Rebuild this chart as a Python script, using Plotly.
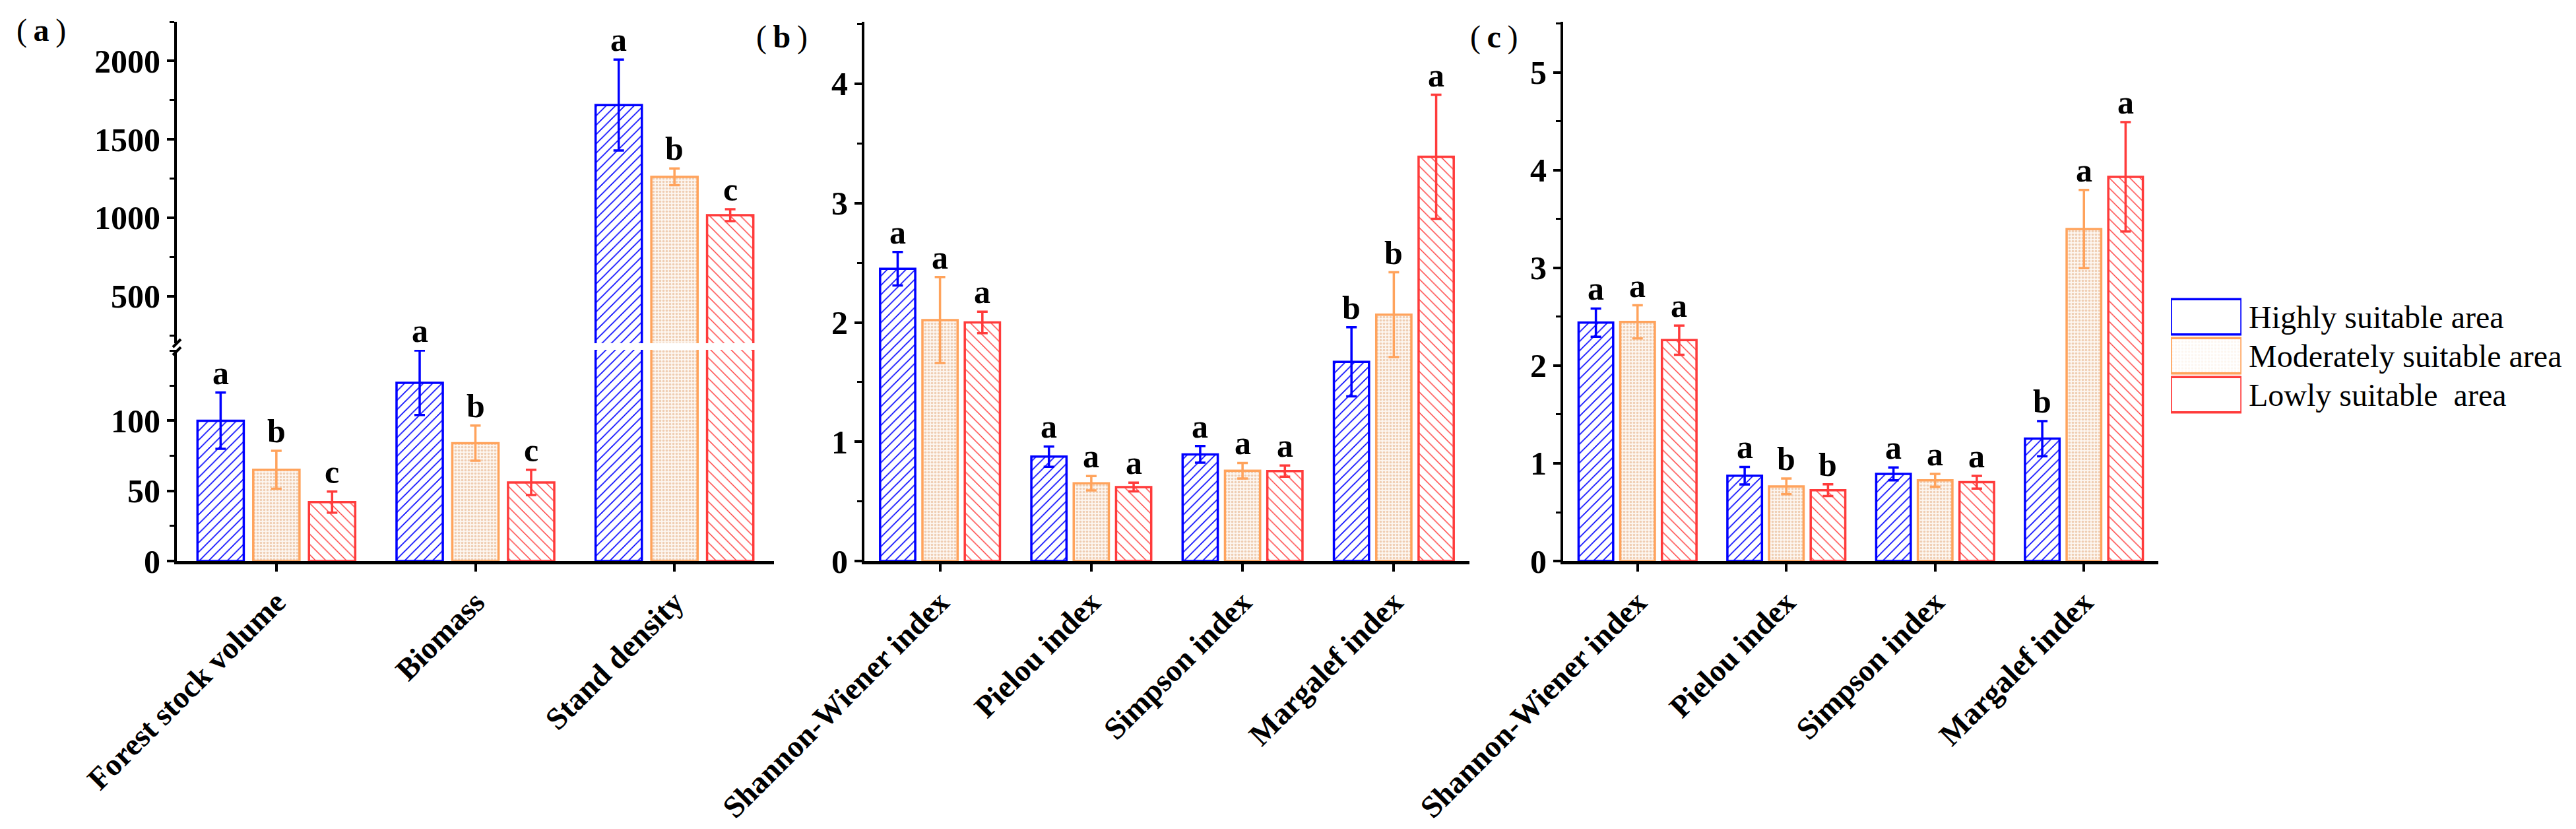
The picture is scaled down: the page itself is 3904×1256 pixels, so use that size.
import plotly.graph_objects as go

# ---------------- data ----------------
series = ["Highly suitable area", "Moderately suitable area", "Lowly suitable  area"]

cats_a = ["Forest stock volume", "Biomass", "Stand density"]
high_a = [100, 127, 1719]
high_a_err = [20, 23, 290]
mod_a = [65, 84, 1261]
mod_a_err = [13.5, 12.5, 53]
low_a = [42, 56, 1017]
low_a_err = [7.5, 9, 38]
let_high_a = ["a", "a", "a"]
let_mod_a = ["b", "b", "b"]
let_low_a = ["c", "c", "c"]

cats_b = ["Shannon-Wiener index", "Pielou index", "Simpson index", "Margalef index"]
high_b = [2.45, 0.875, 0.894, 1.67]
high_b_err = [0.14, 0.085, 0.07, 0.29]
mod_b = [2.02, 0.652, 0.757, 2.065]
mod_b_err = [0.36, 0.06, 0.065, 0.355]
low_b = [2.0, 0.62, 0.754, 3.388]
low_b_err = [0.09, 0.037, 0.047, 0.52]
let_high_b = ["a", "a", "a", "b"]
let_mod_b = ["a", "a", "a", "b"]
let_low_b = ["a", "a", "a", "a"]

cats_c = ["Shannon-Wiener index", "Pielou index", "Simpson index", "Margalef index"]
high_c = [2.44, 0.873, 0.892, 1.253]
high_c_err = [0.145, 0.09, 0.066, 0.18]
mod_c = [2.448, 0.764, 0.826, 3.398]
mod_c_err = [0.17, 0.08, 0.066, 0.4]
low_c = [2.261, 0.725, 0.807, 3.933]
low_c_err = [0.15, 0.06, 0.065, 0.56]
let_high_c = ["a", "a", "a", "b"]
let_mod_c = ["a", "b", "a", "a"]
let_low_c = ["a", "b", "a", "a"]

panel_labels = ["a", "b", "c"]
lower_a_ticks = [0, 50, 100]

# ---------------- style ----------------
W, H = 3904, 1256
BARGAP = 0.16
BARGROUPGAP = 0.17
SERIF = "Times New Roman, Liberation Serif, serif"

edge = ["#0000FF", "#FFA35C", "#FF3B3B"]
pat_shape = ["/", ".", "\\"]
pat_fg = ["#0000FF", "#EFCDB2", "#FF3B3B"]
pat_bg = ["#FFFFFF", "#FDF6F0", "#FFFFFF"]
pat_size = [10, 5, 11]
pat_sol = [0.16, 0.4, 0.13]


def fx(p):
    return p / W


def fy(p):
    return 1 - p / H


tick_font = dict(family=SERIF, size=50, color="black", weight="bold")
xtick_font = dict(family=SERIF, size=47, color="black", weight="bold")
letter_font = dict(family=SERIF, size=50, color="black", weight="bold")

fig = go.Figure()

panels = [
    dict(cats=cats_a, vals=[high_a, mod_a, low_a], errs=[high_a_err, mod_a_err, low_a_err],
         lets=[let_high_a, let_mod_a, let_low_a], axes=[("x", "y"), ("x2", "y2")]),
    dict(cats=cats_b, vals=[high_b, mod_b, low_b], errs=[high_b_err, mod_b_err, low_b_err],
         lets=[let_high_b, let_mod_b, let_low_b], axes=[("x3", "y3")]),
    dict(cats=cats_c, vals=[high_c, mod_c, low_c], errs=[high_c_err, mod_c_err, low_c_err],
         lets=[let_high_c, let_mod_c, let_low_c], axes=[("x4", "y4")]),
]

LOWER_A_MAX = 150.5

for p in panels:
    for xa, ya in p["axes"]:
        for k in range(3):
            fig.add_trace(go.Bar(
                x=p["cats"], y=p["vals"][k], name=series[k], xaxis=xa, yaxis=ya,
                showlegend=False,
                marker=dict(color=pat_bg[k],
                            line=dict(color=edge[k], width=3.5),
                            pattern=dict(shape=pat_shape[k], fgcolor=pat_fg[k], bgcolor=pat_bg[k],
                                         size=pat_size[k], solidity=pat_sol[k], fillmode="replace")),
                error_y=dict(type="data", array=p["errs"][k], visible=True, color=edge[k],
                             thickness=3.5, width=8),
            ))

# significance letters
slot = (1 - BARGAP) / 3
annotations = []
for pi, p in enumerate(panels):
    for k in range(3):
        for ci in range(len(p["cats"])):
            top = p["vals"][k][ci] + p["errs"][k][ci]
            if pi == 0:
                xa, ya = ("x", "y") if top <= LOWER_A_MAX else ("x2", "y2")
            else:
                xa, ya = p["axes"][0]
            annotations.append(dict(
                x=ci + (k - 1) * slot, y=top, xref=xa, yref=ya, text=p["lets"][k][ci],
                showarrow=False, yanchor="bottom", xanchor="center", yshift=0, font=letter_font))

# panel labels
label_pos = [(54, 38), (1177, 48), (2256, 48)]
for lab, (lx, ly) in zip(panel_labels, label_pos):
    annotations.append(dict(
        x=fx(lx), y=fy(ly), xref="paper", yref="paper",
        text="(\u2009<b>" + lab + "</b>\u2009)",
        showarrow=False, xanchor="center", yanchor="middle",
        font=dict(family=SERIF, size=48, color="black")))

# legend as a small horizontal bar subplot
fig.add_trace(go.Bar(
    x=[1, 1, 1], y=series, orientation="h", xaxis="x5", yaxis="y5", showlegend=False,
    width=0.91,
    marker=dict(color=pat_bg, line=dict(color=edge, width=3.5),
                pattern=dict(shape=pat_shape, fgcolor=pat_fg, bgcolor=pat_bg,
                             size=pat_size, solidity=pat_sol, fillmode="replace")),
    hoverinfo="skip",
))

minor_style = dict(ticks="outside", ticklen=7, tickwidth=3, tickcolor="black")
common_y = dict(showline=True, linecolor="black", linewidth=4, ticks="outside", ticklen=11,
                tickwidth=3.5, tickcolor="black", showgrid=False, zeroline=False,
                tickfont=tick_font, automargin=False)
common_x = dict(showline=True, linecolor="black", linewidth=5, ticks="outside", ticklen=11,
                tickwidth=3.5, tickcolor="black", showgrid=False, zeroline=False,
                tickfont=xtick_font, tickangle=-45, automargin=False, type="category")

base_y = 842

fig.update_layout(
    width=W, height=H, margin=dict(l=0, r=0, t=0, b=0),
    paper_bgcolor="white", plot_bgcolor="rgba(0,0,0,0)",
    barmode="group", bargap=BARGAP, bargroupgap=BARGROUPGAP,
    showlegend=False,
    xaxis=dict(domain=[fx(260), fx(1165)], anchor="y", range=[-0.5, 2.5], **common_x),
    yaxis=dict(domain=[fy(base_y), fy(522)], anchor="x", range=[0, LOWER_A_MAX],
               tickmode="array", tickvals=lower_a_ticks,
               minor=dict(dtick=25, tick0=0, **minor_style), **common_y),
    xaxis2=dict(domain=[fx(260), fx(1165)], anchor="y2", range=[-0.5, 2.5], visible=False,
                type="category"),
    yaxis2=dict(domain=[fy(512), fy(25)], anchor="x2", range=[200, 2250], dtick=500, tick0=0,
                minor=dict(dtick=250, **minor_style), **common_y),
    xaxis3=dict(domain=[fx(1302), fx(2219)], anchor="y3", range=[-0.5, 3.5], **common_x),
    yaxis3=dict(domain=[fy(base_y), fy(25)], anchor="x3", range=[0, 4.52], dtick=1, tick0=0,
                minor=dict(dtick=0.5, **minor_style), **common_y),
    xaxis4=dict(domain=[fx(2361), fx(3263)], anchor="y4", range=[-0.5, 3.5], **common_x),
    yaxis4=dict(domain=[fy(base_y), fy(25)], anchor="x4", range=[0, 5.52], dtick=1, tick0=0,
                minor=dict(dtick=0.5, **minor_style), **common_y),
    xaxis5=dict(domain=[fx(3282), fx(3389)], anchor="y5", range=[0, 1], visible=False),
    yaxis5=dict(domain=[fy(619.5), fy(442.5)], anchor="x5", side="right", type="category",
                range=[2.5, -0.5], showline=False, ticks="", showgrid=False, zeroline=False,
                tickmode="array", tickvals=series,
                ticktext=[s.replace("  ", "\u00a0 ") for s in series],
                tickfont=dict(family=SERIF, size=48, color="black"), ticklabelstandoff=10,
                automargin=False),
    annotations=annotations,
    shapes=[
        dict(type="line", xref="paper", yref="paper", x0=fx(254), y0=fy(518), x1=fx(266), y1=fy(506),
             line=dict(color="black", width=4)),
        dict(type="line", xref="paper", yref="paper", x0=fx(254), y0=fy(530), x1=fx(266), y1=fy(518),
             line=dict(color="black", width=4)),
    ],
)

fig.write_html("out.html", config={"displayModeBar": False})
